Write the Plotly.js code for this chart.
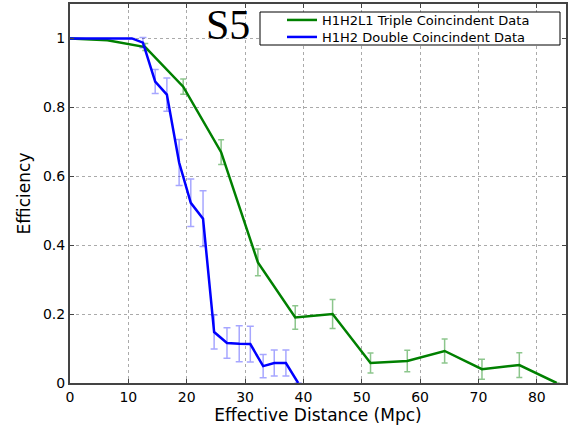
<!DOCTYPE html>
<html><head><meta charset="utf-8">
<script src="https://cdn.plot.ly/plotly-3.0.1.min.js"></script>
<style>html,body{margin:0;padding:0;background:#fff}#c{width:568px;height:426px}</style>
</head><body><div id="c"></div>
<script>
const tripleX = [0, 6.4, 12.9, 19.4, 25.9, 32.2, 38.6, 45.0, 51.5, 57.8, 64.2, 70.6, 77.0, 83.4];
const tripleY = [1.0, 0.995, 0.975, 0.86, 0.67, 0.35, 0.19, 0.20, 0.058, 0.064, 0.093, 0.04, 0.052, 0.0];
const tripleErr = [0, 0, 0.01, 0.022, 0.036, 0.039, 0.034, 0.042, 0.029, 0.031, 0.035, 0.029, 0.036, 0];

const doubleX = [0, 10.6, 12.5, 14.6, 16.6, 18.7, 20.7, 22.8, 24.7, 26.9, 29.0, 30.9, 33.1, 35.0, 37.0, 39.1];
const doubleY = [1.0, 1.0, 0.988, 0.875, 0.837, 0.64, 0.523, 0.477, 0.148, 0.116, 0.114, 0.113, 0.049, 0.058, 0.058, 0.0];
const doubleErr = [0, 0, 0.015, 0.035, 0.048, 0.067, 0.069, 0.081, 0.049, 0.044, 0.052, 0.052, 0.034, 0.038, 0.038, 0];

const xTicks = [0, 10, 20, 30, 40, 50, 60, 70, 80];
const yTicks = [0, 0.2, 0.4, 0.6, 0.8, 1];

const traces = [
  {x: tripleX, y: tripleY, mode: 'lines', name: 'H1H2L1 Triple Coincindent Data',
   line: {color: '#008000', width: 2.5}, legend: 'legend',
   error_y: {type: 'data', array: tripleErr, visible: true, color: 'rgba(0,128,0,0.45)', thickness: 1.5, width: 3}},
  {x: doubleX, y: doubleY, mode: 'lines', name: 'H1H2 Double Coincindent Data',
   line: {color: '#0000ff', width: 2.5}, legend: 'legend2',
   error_y: {type: 'data', array: doubleErr, visible: true, color: 'rgba(0,0,255,0.35)', thickness: 1.5, width: 3.5}}
];

const axCommon = {
  showline: true, linecolor: '#444', linewidth: 2, mirror: 'ticks',
  ticks: 'inside', ticklen: 4, tickcolor: '#444', tickwidth: 1,
  showgrid: true, gridcolor: '#aaa', griddash: 'dot', gridwidth: 1,
  zeroline: false, tickfont: {family: 'DejaVu Sans', size: 14, color: '#000'}
};

const plotL = 70, plotR = 566, plotT = 4, plotB = 383;
const px = v => (v - plotL) / (plotR - plotL);
const py = v => (plotB - v) / (plotB - plotT);

const legFont = {family: 'DejaVu Sans', size: 13, color: '#000'};
const layout = {
  width: 568, height: 426,
  margin: {l: 70, r: 2, t: 4, b: 43},
  paper_bgcolor: '#fff', plot_bgcolor: '#fff',
  showlegend: true,
  legend: {x: px(282), y: py(20), xanchor: 'left', yanchor: 'middle',
    bgcolor: 'rgba(0,0,0,0)', borderwidth: 0, font: legFont},
  legend2: {x: px(282), y: py(37), xanchor: 'left', yanchor: 'middle',
    bgcolor: 'rgba(0,0,0,0)', borderwidth: 0, font: legFont},
  xaxis: Object.assign({}, axCommon, {range: [0, 85], tickvals: xTicks,
    title: {text: 'Effective Distance (Mpc)', font: {family: 'DejaVu Sans', size: 17, color: '#000'}, standoff: 4}}),
  yaxis: Object.assign({}, axCommon, {range: [0, 1.1], tickvals: yTicks,
    title: {text: 'Efficiency', font: {family: 'DejaVu Sans', size: 17, color: '#000'}, standoff: 8}}),
  shapes: [{type: 'rect', xref: 'paper', yref: 'paper', layer: 'above',
    x0: px(260), x1: px(560), y0: py(45), y1: py(12),
    fillcolor: '#fff', line: {color: '#000', width: 1}}],
  annotations: [{text: 'S5', xref: 'paper', yref: 'paper',
    x: px(228), y: py(25), xanchor: 'center', yanchor: 'middle',
    showarrow: false, font: {family: 'Liberation Serif', size: 42, color: '#000'}}]
};

Plotly.newPlot('c', traces, layout, {staticPlot: true});
</script></body></html>
